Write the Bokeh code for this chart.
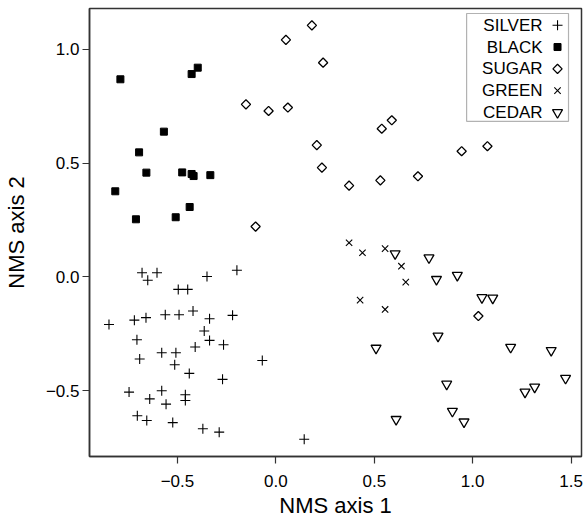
import numpy as np
from bokeh.plotting import figure
from bokeh.models import Range1d, FixedTicker, BoxAnnotation, Title
from bokeh.core.properties import value
from bokeh.embed import file_html
from bokeh.resources import INLINE

# ---- data ----
silver_x = [-0.680, -0.604, -0.651, -0.350, -0.198, -0.496, -0.448, -0.848, -0.719, -0.660,
            -0.562, -0.492, -0.421, -0.337, -0.220, -0.364, -0.337, -0.266, -0.706, -0.410,
            -0.580, -0.508, -0.692, -0.514, -0.069, -0.440, -0.271, -0.746, -0.580, -0.460,
            -0.460, -0.641, -0.558, -0.704, -0.656, -0.524, -0.371, -0.288, 0.144]
silver_y = [0.018, 0.018, -0.015, 0.002, 0.029, -0.055, -0.055, -0.209, -0.190, -0.179,
            -0.166, -0.166, -0.150, -0.184, -0.169, -0.238, -0.279, -0.298, -0.276, -0.308,
            -0.333, -0.333, -0.361, -0.386, -0.367, -0.424, -0.450, -0.506, -0.500, -0.518,
            -0.543, -0.536, -0.559, -0.610, -0.631, -0.640, -0.667, -0.682, -0.713]

black_x = [-0.790, -0.428, -0.397, -0.569, -0.695, -0.658, -0.476, -0.428, -0.418, -0.333,
           -0.816, -0.438, -0.711, -0.509]
black_y = [0.868, 0.891, 0.919, 0.638, 0.547, 0.458, 0.459, 0.452, 0.443, 0.447,
           0.376, 0.307, 0.253, 0.262]

sugar_x = [0.183, 0.051, 0.240, -0.152, -0.037, 0.061, 0.589, 0.538, 0.208, 0.234,
           0.372, 0.531, 0.722, -0.103, 0.944, 1.075, 1.029]
sugar_y = [1.105, 1.041, 0.941, 0.758, 0.729, 0.744, 0.688, 0.651, 0.579, 0.480,
           0.401, 0.424, 0.442, 0.221, 0.552, 0.574, -0.172]

green_x = [0.372, 0.440, 0.555, 0.638, 0.660, 0.428, 0.555]
green_y = [0.150, 0.106, 0.124, 0.047, -0.023, -0.102, -0.143]

cedar_x = [0.606, 0.778, 0.816, 0.922, 1.047, 1.102, 0.824, 0.509, 1.193, 1.399,
           1.472, 0.868, 1.266, 1.315, 0.611, 0.897, 0.956]
cedar_y = [0.102, 0.084, -0.011, 0.007, -0.091, -0.093, -0.260, -0.313, -0.309, -0.323,
           -0.445, -0.471, -0.506, -0.484, -0.626, -0.590, -0.637]

x_ticks = [-0.5, 0.0, 0.5, 1.0, 1.5]
x_tick_labels = ["\u22120.5", "0.0", "0.5", "1.0", "1.5"]
y_ticks = [-0.5, 0.0, 0.5, 1.0]
y_tick_labels = ["\u22120.5", "0.0", "0.5", "1.0"]

legend_labels = ["SILVER", "BLACK", "SUGAR", "GREEN", "CEDAR"]

X0, X1 = -0.947, 1.553
Y0, Y1 = -0.789, 1.179

FONT = "Liberation Sans"

p = figure(width=583, height=520, output_backend="svg", toolbar_location=None,
           x_range=Range1d(X0, X1), y_range=Range1d(Y0, Y1),
           min_border_left=88, min_border_right=2, min_border_top=8, min_border_bottom=64)
p.background_fill_color = "white"
p.border_fill_color = "white"
p.grid.visible = False
p.outline_line_color = "#333333"
p.outline_line_width = 1.5

for ax in (p.xaxis[0], p.yaxis[0]):
    ax.axis_line_color = "#333333"
    ax.axis_line_width = 1.5
    ax.major_tick_line_color = "#333333"
    ax.major_tick_line_width = 1.2
    ax.major_tick_out = 7
    ax.major_tick_in = 0
    ax.minor_tick_line_color = None
    ax.major_label_text_font = FONT
    ax.major_label_text_font_size = "17px"
    ax.major_label_text_color = "black"
    ax.axis_label_text_font = FONT
    ax.axis_label_text_font_size = "22px"
    ax.axis_label_text_font_style = "normal"
    ax.axis_label_text_color = "black"

p.xaxis.ticker = FixedTicker(ticks=x_ticks)
p.xaxis.major_label_overrides = dict(zip(x_ticks, x_tick_labels))
p.yaxis.ticker = FixedTicker(ticks=y_ticks)
p.yaxis.major_label_overrides = dict(zip(y_ticks, y_tick_labels))
p.yaxis.axis_label = "NMS axis 2"
p.xaxis.major_label_standoff = 11
p.yaxis.major_label_standoff = 3
p.yaxis.axis_label_standoff = 14

# x-axis title as a panel below the axis
p.add_layout(Title(text="NMS axis 1", align="center", text_font=FONT,
                   text_font_size="22px", text_font_style="normal",
                   text_color="black", standoff=2), "below")

# ---- data marks ----
p.scatter(silver_x, silver_y, marker="cross", size=10, line_color="black", line_width=1.1)
p.scatter(black_x, black_y, marker="square", size=7, fill_color="black", line_color="black")
p.scatter(sugar_x, sugar_y, marker="square", angle=np.pi / 4, size=6.5,
          fill_color="white", line_color="black", line_width=1.3)
p.scatter(green_x, green_y, marker="x", size=9, line_color="black", line_width=1.1)
p.scatter(cedar_x, cedar_y, marker="inverted_triangle", size=10,
          fill_color="white", line_color="black", line_width=1.3)

# ---- legend (label on the left, symbol on the right) ----
FL, FR, FT, FB = 88.5, 581.0, 8.3, 456.0
def sx2x(sx):
    return X0 + (sx - FL) / (FR - FL) * (X1 - X0)
def sy2y(sy):
    return Y1 - (sy - FT) / (FB - FT) * (Y1 - Y0)

box = BoxAnnotation(left=sx2x(466), right=sx2x(568), top=sy2y(13.3), bottom=sy2y(121),
                    fill_color="white", fill_alpha=1.0, line_color="black", line_width=1.2,
                    level="underlay")
p.add_layout(box)

rows_sy = [25 + i * 21.8 for i in range(len(legend_labels))]
lx = [sx2x(542)] * len(legend_labels)
ly = [sy2y(s) for s in rows_sy]
mx = sx2x(557)
p.text(lx, ly, text=legend_labels, text_align="right", text_baseline="middle",
       text_font=value(FONT), text_font_size="17px", text_color="black")
p.scatter([mx], [ly[0]], marker="cross", size=10, line_color="black", line_width=1.1)
p.scatter([mx], [ly[1]], marker="square", size=7, fill_color="black", line_color="black")
p.scatter([mx], [ly[2]], marker="square", angle=np.pi / 4, size=6.5,
          fill_color="white", line_color="black", line_width=1.3)
p.scatter([mx], [ly[3]], marker="x", size=9, line_color="black", line_width=1.1)
p.scatter([mx], [ly[4]], marker="inverted_triangle", size=10,
          fill_color="white", line_color="black", line_width=1.3)

open("out.html", "w").write(file_html(p, INLINE))
